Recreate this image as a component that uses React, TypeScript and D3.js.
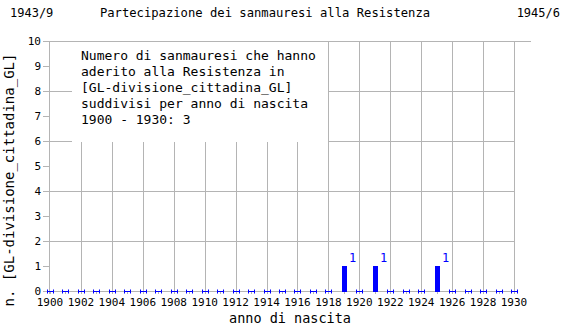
import React from "react";
import * as d3 from "d3";

// Members per birth year
const years: number[] = d3.range(1900, 1931);
const nonZeroYears: number[] = [1919, 1921, 1925];
const nonZeroCounts: number[] = [1, 1, 1];
const counts: number[] = years.map((y) => {
  const i = nonZeroYears.indexOf(y);
  return i >= 0 ? nonZeroCounts[i] : 0;
});
const yTicks: number[] = d3.range(0, 11);
const yGrid: number[] = [0, 2, 4, 6, 8, 10];
const xLabelYears: number[] = d3.range(1900, 1931, 2);

const titleLeft = "1943/9";
const titleMain = "Partecipazione dei sanmauresi alla Resistenza";
const titleRight = "1945/6";
const noteLines: string[] = [
  "Numero di sanmauresi che hanno",
  "aderito alla Resistenza in",
  "[GL-divisione_cittadina_GL]",
  "suddivisi per anno di nascita",
  "1900 - 1930: 3",
];
const xTitle = "anno di nascita";
const yTitle = "n. [GL-divisione_cittadina_GL]";

const W = 570;
const H = 330;
const FONT = "'DejaVu Sans Mono', 'Liberation Mono', monospace";
const GRID = "#b4b4b4";
const BLUE = "#0000ff";

export default function App() {
  const x = d3.scaleLinear().domain([1900, 1930]).range([50, 514]);
  const y = d3.scaleLinear().domain([0, 10]).range([291, 41]);
  const px = (v: number) => Math.round(v) + 0.5;
  const left = 49;
  const right = 531;
  const box = { x: 72, y: 42, w: 256, h: 100 };

  return (
    <svg
      width={W}
      height={H}
      style={{ position: "absolute", left: 0, top: 0, background: "#fff" }}
      fontFamily={FONT}
    >
      <rect x={0} y={0} width={W} height={H} fill="#fff" />
      {/* titles */}
      <text x={10} y={17} fontSize={12} fill="#000">{titleLeft}</text>
      <text x={265} y={17} fontSize={12.2} fill="#000" textAnchor="middle">{titleMain}</text>
      <text x={560} y={17} fontSize={12} fill="#000" textAnchor="end">{titleRight}</text>

      {/* horizontal grid */}
      {yGrid.map((v) => (
        <line key={"hg" + v} x1={left} x2={v === 10 ? right : 514} y1={px(y(v))} y2={px(y(v))} stroke={GRID} strokeWidth={1} />
      ))}
      {/* vertical grid */}
      {xLabelYears.filter((v) => v > 1900).map((v) => (
        <line key={"vg" + v} x1={px(x(v))} x2={px(x(v))} y1={y(10)} y2={y(0) + 3} stroke={GRID} strokeWidth={1} />
      ))}
      {/* y axis */}
      <line x1={px(left)} x2={px(left)} y1={y(10)} y2={y(0) + 3} stroke={GRID} strokeWidth={1} />
      {yTicks.map((v) => (
        <g key={"yt" + v}>
          <line x1={left - 6} x2={left} y1={px(y(v))} y2={px(y(v))} stroke={GRID} strokeWidth={1} />
          <text x={41} y={y(v) + 4} fontSize={11} textAnchor="end" fill="#000">{v}</text>
        </g>
      ))}
      {/* minor year ticks */}
      {years.map((v) => (
        <line key={"xt" + v} x1={px(x(v))} x2={px(x(v))} y1={y(0)} y2={y(0) + 3} stroke={GRID} strokeWidth={1} />
      ))}
      {xLabelYears.map((v) => (
        <text key={"xl" + v} x={x(v)} y={306} fontSize={11} textAnchor="middle" fill="#000">{v}</text>
      ))}

      {/* note box */}
      <rect x={box.x} y={box.y} width={box.w} height={box.h} fill="#fff" />
      {noteLines.map((s, i) => (
        <text key={"n" + i} x={81} y={60 + i * 16} fontSize={13} fill="#000">{s}</text>
      ))}

      {/* bars and zero markers */}
      {years.map((yr, i) => {
        const c = counts[i];
        const cx = Math.round(x(yr));
        if (c === 0) {
          const yy = Math.round(y(0)) + 0.5;
          return (
            <g key={"m" + yr} stroke={BLUE} strokeWidth={1}>
              <line x1={cx - 3} x2={cx + 4} y1={yy} y2={yy} />
              <line x1={cx - 3 + 0.5} x2={cx - 3 + 0.5} y1={yy - 2} y2={yy + 2} />
              <line x1={cx + 3 + 0.5} x2={cx + 3 + 0.5} y1={yy - 2} y2={yy + 2} />
            </g>
          );
        }
        return (
          <g key={"b" + yr}>
            <rect x={cx - 2} y={y(c)} width={5} height={y(0) - y(c) + 1} fill={BLUE} />
            <text x={cx + 5} y={y(c) - 4} fontSize={12} fill={BLUE}>{c}</text>
          </g>
        );
      })}

      {/* axis titles */}
      <text x={290} y={323} fontSize={13.5} textAnchor="middle" fill="#000">{xTitle}</text>
      <text transform="translate(14,180) rotate(-90)" fontSize={14} textAnchor="middle" fill="#000">{yTitle}</text>
    </svg>
  );
}
